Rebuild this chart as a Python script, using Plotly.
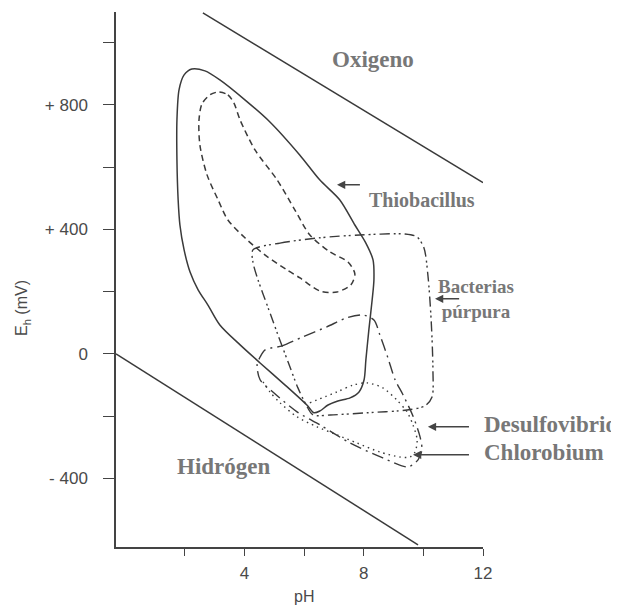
import plotly.graph_objects as go

# ---- data (pH, Eh in mV) ----
oxygen_ph = [2.60, 12.0]
oxygen_mv = [1095, 550]

hydrogen_ph = [-0.315, 9.82]
hydrogen_mv = [0, -613]

thio_ph = [2.23, 2.67, 3.17, 4.01, 4.85, 5.85, 6.52, 7.19, 7.70, 8.07, 8.31, 8.34, 8.28, 8.17, 8.07, 8.01,
           7.84, 7.54, 7.13, 6.80, 6.53, 6.33, 6.09, 5.36, 4.52, 3.85, 3.17, 2.77, 2.44, 2.17, 1.97, 1.83,
           1.77, 1.73, 1.73, 1.80, 1.97, 2.23]
thio_mv = [915, 909, 880, 816, 745, 639, 559, 495, 414, 356, 302, 238, 173, 77, -19, -83,
           -122, -141, -151, -164, -183, -189, -164, -100, -29, 29, 93, 157, 206, 263, 334, 414,
           495, 623, 751, 848, 896, 915]

thio2_ph = [3.11, 3.44, 3.64, 3.85, 4.35, 5.09, 5.69, 6.19, 6.86, 7.47, 7.70, 7.57, 7.10, 6.53, 5.86, 5.42,
            4.68, 4.01, 3.44, 3.11, 2.74, 2.50, 2.47, 2.57, 2.84, 3.11]
thio2_mv = [841, 832, 806, 751, 655, 559, 462, 382, 328, 295, 257, 222, 199, 202, 244, 270,
            318, 373, 430, 495, 575, 671, 751, 803, 832, 841]

purple_ph = [4.28, 5.19, 6.53, 7.87, 9.38, 9.78, 10.02, 10.15, 10.26, 10.32, 10.29, 10.05, 9.45, 8.11,
             6.87, 6.30, 6.03, 5.79, 5.46, 5.12, 4.79, 4.45, 4.28, 4.28]
purple_mv = [334, 356, 373, 382, 385, 376, 340, 254, 109, -51, -138, -167, -180, -189,
             -196, -196, -157, -109, -26, 61, 148, 238, 295, 334]

chloro_ph = [4.69, 5.26, 5.96, 6.76, 7.43, 7.97, 8.34, 8.54, 8.81, 9.05, 9.32, 9.66, 9.89, 9.95, 9.82,
             9.48, 8.64, 7.54, 6.53, 5.76, 4.95, 4.52, 4.42, 4.52, 4.69]
chloro_mv = [13, 26, 55, 87, 116, 125, 109, 61, -13, -83, -132, -202, -267, -308, -340,
             -363, -334, -286, -228, -186, -122, -83, -35, -10, 13]

desulfo_ph = [6.19, 7.10, 7.64, 8.11, 8.64, 9.11, 9.45, 9.65, 9.79, 9.72, 9.55, 9.21, 8.54, 7.77, 7.10,
              6.43, 5.76, 5.19, 4.85, 4.62]
desulfo_mv = [-157, -122, -100, -93, -109, -148, -186, -228, -276, -315, -331, -331, -315, -286, -260,
              -234, -202, -157, -122, -90]

x_tickvals = [2, 4, 6, 8, 10, 12]
x_ticktext = ["", "4", "", "8", "", "12"]
y_tickvals = [1000, 800, 600, 400, 200, 0, -200, -400]
y_ticktext = ["", "+ 800", "", "+ 400", "", "0", "", "- 400"]

LINE = "#3a3a3a"
fig = go.Figure()

def add(x, y, dash, width=1.5, shape="spline"):
    fig.add_trace(go.Scatter(x=x, y=y, mode="lines",
                             line=dict(color=LINE, width=width, dash=dash, shape=shape, smoothing=0.8),
                             showlegend=False, hoverinfo="skip"))

add(oxygen_ph, oxygen_mv, "solid", shape="linear")
add(hydrogen_ph, hydrogen_mv, "solid", shape="linear")
add(thio_ph, thio_mv, "solid")
add(thio2_ph, thio2_mv, "6px,4px")
add(purple_ph, purple_mv, "10px,4px,2px,3px,2px,4px", width=1.4)
add(chloro_ph, chloro_mv, "12px,5px,2px,5px", width=1.4)
add(desulfo_ph, desulfo_mv, "1.5px,4px", width=1.4)

SERIF = "Liberation Serif, Times New Roman, serif"
ann = []
def label(text, x, y, size, xanchor="left"):
    ann.append(dict(text="<b>%s</b>" % text, x=x, y=y, xref="x", yref="y", showarrow=False,
                    xanchor=xanchor, yanchor="middle", align="center",
                    font=dict(family=SERIF, size=size, color="#777777")))

label("Oxigeno", 8.31, 944, 23, "center")
label("Thiobacillus", 8.10, 495, 20)
label("Bacterias<br>púrpura", 11.77, 177, 19, "center")
label("Desulfovibrio", 11.97, -228, 23)
label("Chlorobium", 11.97, -318, 23)
label("Hidrógen", 1.66, -363, 23)

def arrow(x_tip, y_tip, x_tail):
    ann.append(dict(text=" ", x=x_tip, y=y_tip, ax=x_tail, ay=y_tip, xref="x", yref="y",
                    axref="x", ayref="y", showarrow=True, arrowhead=2, arrowsize=1.1,
                    arrowwidth=1.5, arrowcolor="#444444"))

arrow(7.10, 543, 7.97)
arrow(10.39, 177, 11.30)
arrow(10.15, -234, 11.63)
arrow(9.65, -324, 11.63)

TICKF = dict(family="Liberation Sans, Arial, sans-serif", size=17, color="#4a4a4a")
TITLEF = dict(family="Liberation Sans, Arial, sans-serif", size=16, color="#4a4a4a")
ann.append(dict(text="E<sub>h</sub> (mV)", x=-0.253, y=0.447, xref="paper", yref="paper",
                xanchor="center", yanchor="middle", showarrow=False, textangle=-90, font=TITLEF))
ann.append(dict(text="pH", x=0.512, y=-0.092, xref="paper", yref="paper",
                xanchor="center", yanchor="middle", showarrow=False, font=TITLEF))

# page body adds an 8px offset, so the figure is a bit smaller than the window
fig.update_layout(
    width=611, height=602,
    margin=dict(l=108, r=136, t=4, b=63),
    paper_bgcolor="white", plot_bgcolor="white",
    annotations=ann,
    xaxis=dict(range=[-0.315, 12.0], tickvals=x_tickvals, ticktext=x_ticktext,
               showgrid=False, zeroline=False, showline=True, linecolor="#444444", linewidth=1.5,
               ticks="outside", ticklen=7, tickwidth=1.3, tickcolor="#444444",
               tickfont=TICKF, ticklabelstandoff=3),
    yaxis=dict(range=[-620, 1098], tickvals=y_tickvals, ticktext=y_ticktext,
               showgrid=False, zeroline=False, showline=True, linecolor="#444444", linewidth=1.5,
               ticks="outside", ticklen=11, tickwidth=1.3, tickcolor="#444444",
               tickfont=TICKF, ticklabelstandoff=12),
)

fig.write_html("out.html")
